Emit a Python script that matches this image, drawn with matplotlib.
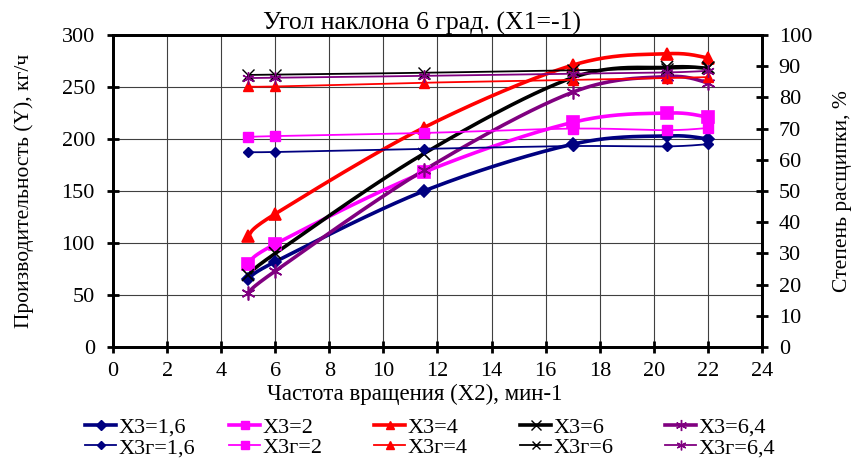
import numpy as np
import matplotlib
matplotlib.use("Agg")
import matplotlib.pyplot as plt
from matplotlib.lines import Line2D

plt.rcParams['font.family'] = ['Liberation Serif', 'DejaVu Serif']

x = [5, 6, 11.5, 17, 20.5, 22]

# Productivity (left axis), kg/h
y_16 = [65, 82, 150, 195, 203, 200]
y_2 = [80, 99, 168, 216, 225, 221]
y_4 = [107, 128, 211, 271, 282, 278]
y_6 = [69, 90, 186, 259, 269, 268]
y_64 = [52, 73, 170, 245, 260, 254]

# Degree (right axis), %
g_16 = [62.5, 62.5, 63.5, 64.4, 64.3, 65.0]
g_2 = [67.3, 67.6, 68.6, 70.0, 69.5, 70.2]
g_4 = [83.5, 83.5, 84.7, 85.6, 86.2, 86.5]
g_6 = [87.2, 87.3, 87.9, 88.7, 89.2, 89.6]
g_64 = [86.2, 86.3, 86.9, 87.6, 88.0, 88.5]

labels_main = ["X3=1,6", "X3=2", "X3=4", "X3=6", "X3=6,4"]
labels_g = ["X3г=1,6", "X3г=2", "X3г=4", "X3г=6", "X3г=6,4"]
colors = ["#000080", "#FF00FF", "#FF0000", "#000000", "#800080"]
markers = ["D", "s", "^", "x", (6, 2, 0)]
msizes = [6, 8, 8, 9, 10]


def smooth(xs, ys, n=40):
    pts = np.column_stack([xs, ys]).astype(float)
    m = len(pts)
    out = [pts[0]]
    t = np.linspace(0, 1, n)[1:, None]
    for i in range(m - 1):
        p0 = pts[i - 1] if i > 0 else pts[i]
        p1 = pts[i]
        p2 = pts[i + 1]
        p3 = pts[i + 2] if i + 2 < m else pts[i + 1]
        c1 = p1 + (p2 - p0) / 6.0
        c2 = p2 - (p3 - p1) / 6.0
        seg = ((1 - t) ** 3) * p1 + 3 * ((1 - t) ** 2) * t * c1 + 3 * (1 - t) * t ** 2 * c2 + t ** 3 * p2
        out.extend(seg)
    out = np.array(out)
    return out[:, 0], out[:, 1]


fig = plt.figure(figsize=(8.52, 4.61), dpi=100)
ax = fig.add_axes([113 / 852, 1 - 347 / 461, (762 - 113) / 852, (347 - 35) / 461])
ax2 = ax.twinx()

ax.set_xlim(0, 24)
ax.set_ylim(0, 300)
ax2.set_ylim(0, 100)
ax.set_xticks(np.arange(0, 25, 2))
ax.set_yticks(np.arange(0, 301, 50))
ax2.set_yticks(np.arange(0, 101, 10))
ax.grid(True, color="#404040", linewidth=0.8)
ax.set_axisbelow(True)

for a in (ax, ax2):
    for s in a.spines.values():
        s.set_linewidth(2.0)
        s.set_color("black")
ax.tick_params(axis="y", direction="inout", length=8, width=2, labelsize=16, pad=9)
ax.tick_params(axis="x", direction="inout", length=8, width=2, labelsize=16, pad=7)
ax2.tick_params(axis="y", direction="inout", length=8, width=2, labelsize=16, pad=8)

main_series = [y_16, y_2, y_4, y_6, y_64]
g_series = [g_16, g_2, g_4, g_6, g_64]

col_x = [85, 229, 374, 520, 665]
for ys, gs, c, mk, ms, lm, lg, cx in zip(main_series, g_series, colors, markers, msizes,
                                         labels_main, labels_g, col_x):
    sx, sy = smooth(x, ys)
    ax.plot(sx, sy, color=c, linewidth=2.6, zorder=3)
    ax.plot(x, ys, linestyle="none", marker=mk, color=c, markersize=ms,
            markeredgewidth=1.2, zorder=4)
    gx, gy = smooth(x, gs)
    ax2.plot(gx, gy, color=c, linewidth=1.3, zorder=3)
    ax2.plot(x, gs, linestyle="none", marker=mk, color=c, markersize=ms * 0.9,
             markeredgewidth=1.0, zorder=4)
    h1 = Line2D([], [], color=c, linewidth=2.6, marker=mk, markersize=ms * 0.8, label=lm)
    h2 = Line2D([], [], color=c, linewidth=1.3, marker=mk, markersize=ms * 0.7, label=lg)
    fig.legend(handles=[h1, h2], loc="upper left",
               bbox_to_anchor=(cx / 852, 1 - 417 / 461),
               frameon=False, fontsize=16, handlelength=1.4, handletextpad=0.12,
               labelspacing=0.0, borderaxespad=0, borderpad=0)

ax.set_title("Угол наклона 6 град. (X1=-1)", fontsize=18.5, pad=4, x=0.476)
ax.set_xlabel("Частота вращения (X2), мин-1", fontsize=16.5, labelpad=2, x=0.465)
ax.set_ylabel("Производительность (Y), кг/ч", fontsize=15.5, labelpad=20)
ax2.set_ylabel("Степень расщипки, %", fontsize=15.5, labelpad=15)

fig.savefig("out.png", dpi=100)
